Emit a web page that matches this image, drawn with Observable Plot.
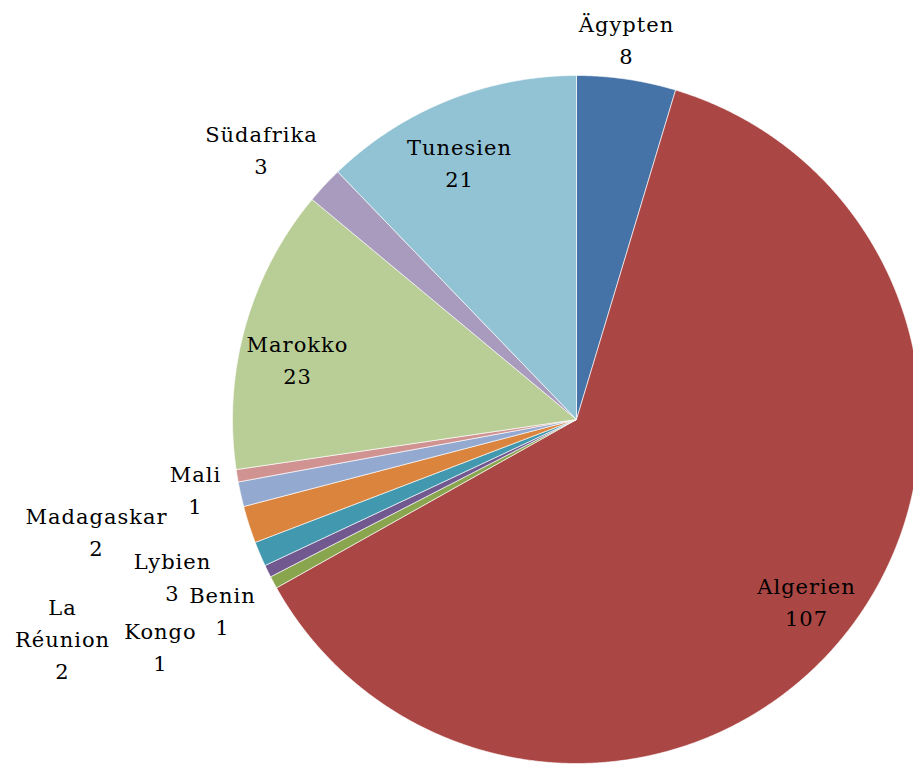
<!DOCTYPE html>
<html><head><meta charset="utf-8">
<script src="https://cdn.jsdelivr.net/npm/d3@7"></script>
<script src="https://cdn.jsdelivr.net/npm/@observablehq/plot@0.6"></script>
<style>
body{margin:0;background:#fff}
</style>
</head><body><div id="chart"></div>
<script>
// ---- data ----
const countries = ["Ägypten","Algerien","Benin","Kongo","La Réunion","Lybien","Madagaskar","Mali","Marokko","Südafrika","Tunesien"];
const counts = [8,107,1,1,2,3,2,1,23,3,21];
const sliceColors = ["#4572A7","#AA4643","#89A54E","#71588F","#4198AF","#DB843D","#93A9CF","#D19392","#B9CD96","#A99BBD","#92C3D4"];
const labelNames = ["Ägypten","Algerien","Benin","Kongo","La\nRéunion","Lybien","Madagaskar","Mali","Marokko","Südafrika","Tunesien"];

// ---- layout (pixels) ----
const W = 913, H = 765;
const cx = 576, cy = 419, r = 344;
const labelPx = [[626,37],[806,599],[222,608.5],[160,644],[62,636],[172,574],[96,529],[195,487.5],[297,357],[261,147.5],[459,160]];
const serif = "DejaVu Serif";

// ---- geometry from values ----
const arcs = d3.pie().sort(null).startAngle(0).endAngle(2*Math.PI)(counts);
const pts = [];
arcs.forEach((a, i) => {
  const name = countries[i];
  pts.push({name, u: 0, v: 0});
  const n = Math.max(2, Math.ceil((a.endAngle - a.startAngle) / 0.005));
  for (let k = 0; k <= n; k++) {
    const t = a.startAngle + (a.endAngle - a.startAngle) * k / n;
    pts.push({name, u: Math.sin(t), v: Math.cos(t)});
  }
  pts.push({name, u: 0, v: 0});
});
const labels = countries.map((c, i) => ({
  name: c,
  text: labelNames[i] + "\n" + counts[i],
  u: (labelPx[i][0] - cx) / r,
  v: (cy - labelPx[i][1]) / r
}));

const chart = Plot.plot({
  width: W, height: H,
  margin: 0,
  style: {background: "#fff", fontFamily: serif},
  x: {domain: [-1, 1], range: [cx - r, cx + r], axis: null},
  y: {domain: [-1, 1], range: [cy + r, cy - r], axis: null},
  color: {domain: countries, range: sliceColors},
  marks: [
    Plot.line(pts, {x: "u", y: "v", z: "name", fill: "name", stroke: "#ffffff", strokeWidth: 0.8, strokeOpacity: 0.8, curve: "linear"}),
    Plot.text(labels, {x: "u", y: "v", text: "text", fontSize: 21, fontFamily: serif, lineHeight: 1.52, fill: "#000", textAnchor: "middle", lineAnchor: "middle"})
  ]
});
chart.querySelectorAll("text").forEach(t => {
  t.setAttribute("letter-spacing", "1px");
  t.style.letterSpacing = "1px";
});
document.getElementById("chart").appendChild(chart);
</script>
</body></html>
